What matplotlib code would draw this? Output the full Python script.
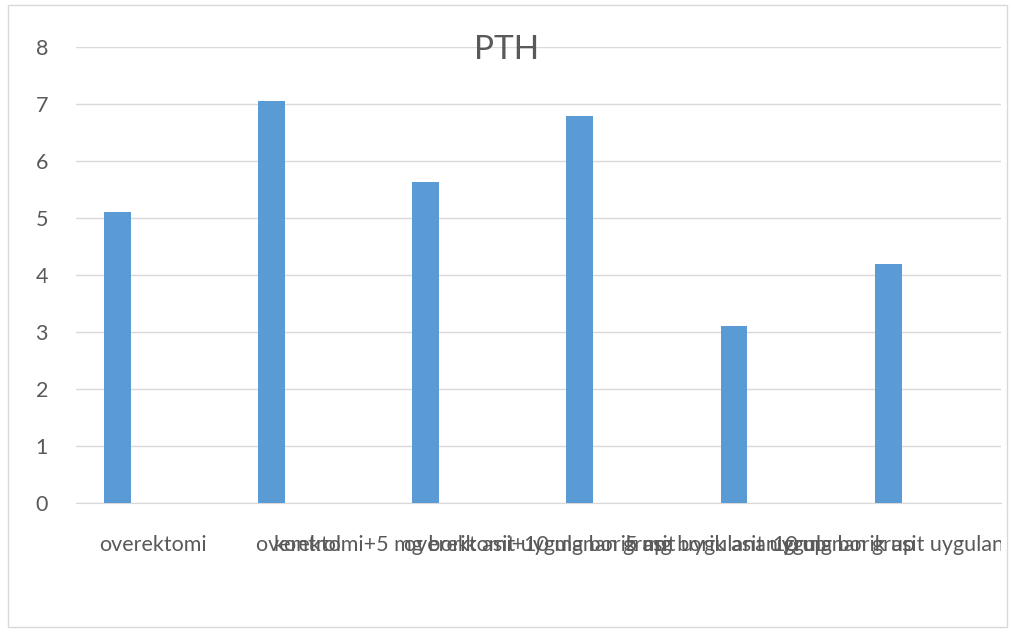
import numpy as np
import matplotlib
matplotlib.use("Agg")
from matplotlib import pyplot as plt
from matplotlib.patches import Rectangle
from matplotlib.transforms import Bbox, TransformedBbox

# PTH verileri
gruplar = ["overektomi", "kontrol", "overektomi+5 mg borik asit uygulanan grup",
           "overektomi+10 mg borik asit uygulanan grup", "5 mg borik asit uygulanan grup",
           "10 mg borik asit uygulanan grup"]
pth = [5.1, 7.05, 5.63, 6.79, 3.1, 4.19]
y_ticks = [0, 1, 2, 3, 4, 5, 6, 7, 8]

plt.rcParams['font.family'] = ['Lato', 'DejaVu Sans']
gri = "#595959"

fig = plt.figure(figsize=(10.11, 6.32), dpi=100)
ax = fig.add_axes([0.075, 0.204, 0.915, 0.722])

x = np.arange(len(gruplar))
ax.bar(x - 0.231, pth, width=0.175, color="#5b9bd5", zorder=3)

ax.set_xlim(-0.5, 5.5)
ax.set_ylim(0, 8)
ax.set_yticks(y_ticks)
ax.set_xticks(x)
ax.set_xticklabels(gruplar, fontsize=15.5, color=gri)
ax.tick_params(axis="x", length=0, pad=23)
ax.tick_params(axis="y", length=0, pad=20, labelsize=15.5, labelcolor=gri)
ax.grid(axis="y", color="#d9d9d9", linewidth=1, zorder=0)
for s in ["top", "right", "left"]:
    ax.spines[s].set_visible(False)
ax.spines["bottom"].set_color("#d9d9d9")

# etiketler grafik alaninin sag kenarinda kesiliyor
kutu = TransformedBbox(Bbox([[0, 0], [1001 / 1011, 1]]), fig.transFigure)
for lbl in ax.get_xticklabels():
    lbl.set_clip_on(True)
    lbl.set_clip_box(kutu)

fig.text(507 / 1011, 1 - 50 / 632, "PTH", ha="center", va="center",
         fontsize=24, color=gri)

# dis cerceve
fig.patches.append(Rectangle((8 / 1011, 5 / 632), 999 / 1011, 622 / 632,
                             transform=fig.transFigure, fill=False,
                             edgecolor="#d9d9d9", linewidth=1))

fig.savefig("out.png", dpi=100)
